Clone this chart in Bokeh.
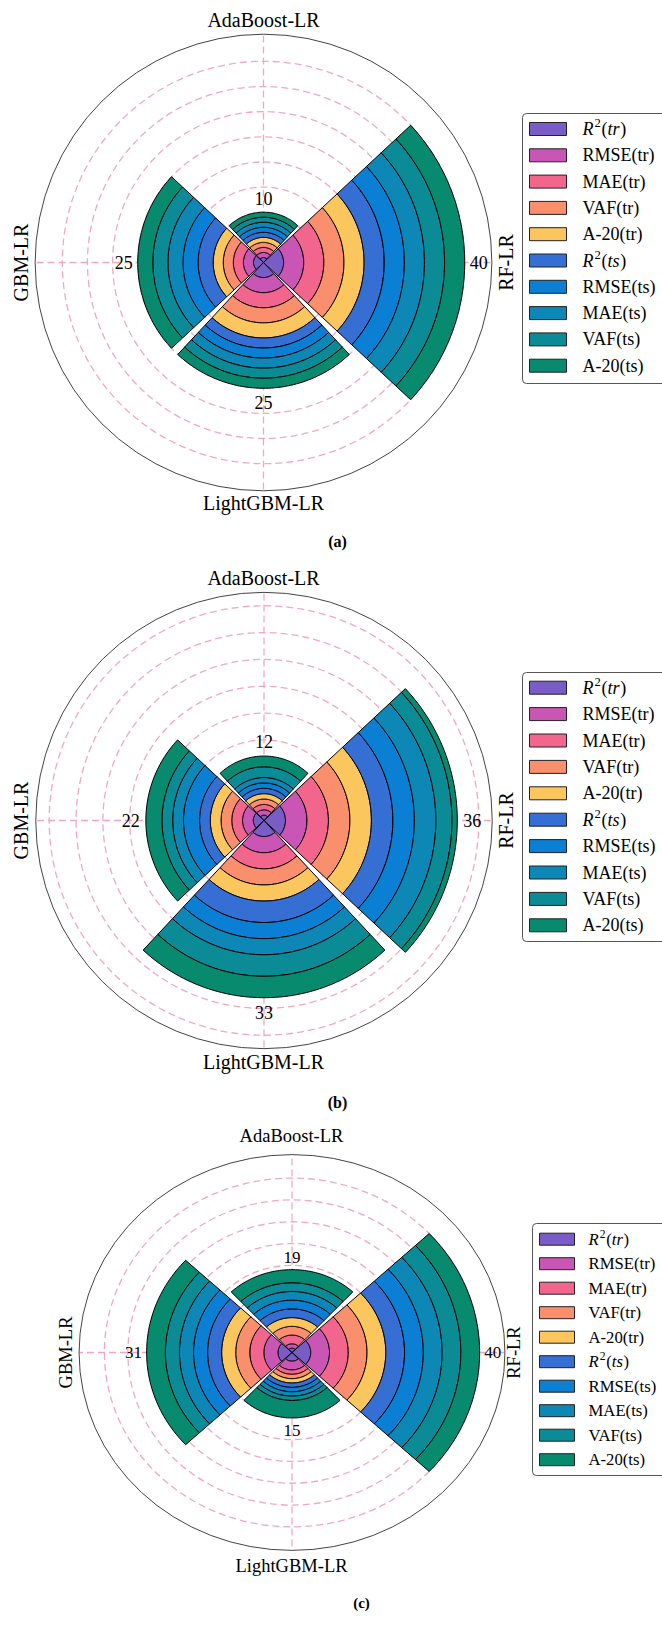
import numpy as np
from bokeh.plotting import figure
from bokeh.models import Range1d
from bokeh.layouts import column
from bokeh.embed import file_html
from bokeh.resources import INLINE
from bokeh.core.properties import value

# ---------------- data ----------------
models = ["RF-LR", "AdaBoost-LR", "GBM-LR", "LightGBM-LR"]
model_angles_deg = [0, 90, 180, 270]
metrics = ["R²(tr)", "RMSE(tr)", "MAE(tr)", "VAF(tr)", "A-20(tr)",
           "R²(ts)", "RMSE(ts)", "MAE(ts)", "VAF(ts)", "A-20(ts)"]
colors = ["#7a5cc6", "#c956b4", "#f2668e", "#f98f6c", "#fcc65e",
          "#356fd3", "#0a7fd4", "#0d87b6", "#0b8b95", "#078a6e"]

# scores (panel a)
a_rf = [4, 4, 4, 4, 4, 4, 4, 4, 4, 4]
a_ada = [1, 1, 1, 1, 1, 1, 1, 1, 1, 1]
a_gbm = [2, 2, 2, 2, 2, 3, 3, 3, 3, 3]
a_lgbm = [3, 3, 3, 3, 3, 2, 2, 2, 2, 2]
# scores (panel b)
b_rf = [4, 4, 4, 4, 4, 4, 4, 4, 3, 1]
b_ada = [1, 1, 1, 1, 1, 1, 1, 1, 2, 2]
b_gbm = [2, 2, 2, 2, 2, 2, 3, 2, 2, 3]
b_lgbm = [3, 3, 3, 3, 3, 4, 3, 3, 4, 4]
# scores (panel c)
c_rf = [4, 4, 4, 4, 4, 4, 4, 4, 4, 4]
c_ada = [1, 1, 2, 2, 2, 2, 2, 2, 2, 3]
c_gbm = [3, 3, 3, 3, 3, 3, 3, 3, 3, 4]
c_lgbm = [2, 2, 1, 1, 1, 1, 1, 1, 1, 4]

grid_values = [5, 10, 15, 20, 25, 30, 35, 40]

FONT = "Liberation Serif"
GRID_COLOR = "#f2a9bd"
HALF = np.radians(43)
W = 662

# approximate Times/Liberation Serif advance widths (em)
ADV = {"R": 0.611, "t": 0.278, "r": 0.389, "s": 0.389, "(": 0.333, ")": 0.333, "2": 0.5}


def seg_poly(tc, r0, r1, n=60):
    t = np.linspace(tc - HALF, tc + HALF, n)
    xo, yo = r1 * np.cos(t), r1 * np.sin(t)
    if r0 > 0:
        xi, yi = r0 * np.cos(t[::-1]), r0 * np.sin(t[::-1])
    else:
        xi, yi = np.array([0.0]), np.array([0.0])
    return list(np.concatenate([xo, xi])), list(np.concatenate([yo, yi]))


def make_panel(scores, cfg):
    top, H = cfg["top"], cfg["H"]
    cx, cy, sx, sy = cfg["cx"], cfg["cy"], cfg["sx"], cfg["sy"]
    p = figure(width=W, height=H, output_backend="svg", toolbar_location=None,
               x_range=Range1d(-cx / sx, (W - cx) / sx),
               y_range=Range1d(-(top + H - cy) / sy, (cy - top) / sy),
               min_border=0, outline_line_color=None, background_fill_color="white")
    p.axis.visible = False
    p.grid.visible = False

    def px(x, y):
        return (x - cx) / sx, (cy - y) / sy

    def text(x, y, s, fs, style="normal", align="center", angle=0.0, xo=0.0, yo=0.0):
        p.text(x=[x], y=[y], text=[s], angle=angle, x_offset=xo, y_offset=yo,
               text_font=value(FONT), text_font_style=style, text_font_size=f"{fs}px",
               text_align=align, text_baseline="middle", text_color="black")

    rmax = cfg["rmax"]
    # grid circles and spokes
    p.ellipse(x=[0] * len(grid_values), y=[0] * len(grid_values),
              width=[2 * g for g in grid_values], height=[2 * g for g in grid_values],
              fill_color=None, line_color=GRID_COLOR, line_width=1.3, line_dash="7 4")
    ang = np.radians(model_angles_deg)
    p.segment(x0=[0] * 4, y0=[0] * 4, x1=list(rmax * np.cos(ang)), y1=list(rmax * np.sin(ang)),
              line_color=GRID_COLOR, line_width=1.3, line_dash="7 4")
    p.ellipse(x=[0], y=[0], width=[2 * rmax], height=[2 * rmax], fill_color=None,
              line_color="#444444", line_width=1)

    # stacked segments
    cum = [np.concatenate([[0], np.cumsum(s)]) for s in scores]
    for i, m in enumerate(metrics):
        xs, ys = [], []
        for k in range(4):
            x, y = seg_poly(ang[k], cum[k][i], cum[k][i + 1])
            xs.append(x)
            ys.append(y)
        p.patches(xs=xs, ys=ys, fill_color=colors[i], line_color="black", line_width=1)

    # totals
    totals = [int(c[-1]) for c in cum]
    off = 2.8
    p.text(x=[(t + off) * np.cos(a) for t, a in zip(totals, ang)],
           y=[(t + off) * np.sin(a) for t, a in zip(totals, ang)],
           text=[str(t) for t in totals], text_font=value(FONT),
           text_font_size=f"{cfg['tick_fs']}px", text_align="center", text_baseline="middle",
           text_color="black")

    # category labels
    for k, name in enumerate(models):
        x, y = px(*cfg["cat_pos"][k])
        angle = np.pi / 2 if model_angles_deg[k] in (0, 180) else 0.0
        text(x, y, name, cfg["cat_fs"], angle=angle)

    # panel tag
    x, y = px(*cfg["tag_pos"])
    text(x, y, cfg["tag"], cfg["tag_fs"], style="bold")

    # legend (drawn as a box of swatches and labels)
    L, T, B = cfg["leg_box"]
    bl, bt = px(L, T)
    br, bb = px(W + 30, B)
    try:
        p.quad(left=[bl], right=[br], top=[bt], bottom=[bb], fill_color="white",
               line_color="#555555", line_width=1, border_radius=4)
    except Exception:
        p.quad(left=[bl], right=[br], top=[bt], bottom=[bb], fill_color="white",
               line_color="#555555", line_width=1)
    gx0, gx1 = cfg["glyph_x"]
    gh, fs = cfg["gh"], cfg["leg_fs"]
    for i, m in enumerate(metrics):
        yc = cfg["row0"] + i * cfg["row_step"]
        l, t_ = px(gx0, yc - gh / 2)
        r, b = px(gx1, yc + gh / 2)
        p.quad(left=[l], right=[r], top=[t_], bottom=[b], fill_color=colors[i],
               line_color="#222222", line_width=1)
        tx, ty = px(cfg["text_x"], yc)
        if m.startswith("R²"):
            sub = m[3:5]
            xo = 0.0
            text(tx, ty, "R", fs, style="italic", align="left", xo=xo)
            xo += (ADV["R"] + 0.06) * fs
            text(tx, ty, "2", fs * 0.7, align="left", xo=xo, yo=-0.33 * fs)
            xo += ADV["2"] * 0.7 * fs + 0.04 * fs
            text(tx, ty, "(", fs, align="left", xo=xo)
            xo += ADV["("] * fs
            text(tx, ty, sub, fs, style="italic", align="left", xo=xo)
            xo += sum(ADV[c] for c in sub) * fs + 0.03 * fs
            text(tx, ty, ")", fs, align="left", xo=xo)
        else:
            text(tx, ty, m, fs, align="left")
    return p


cfg_a = dict(top=0, H=558, cx=263, cy=262, sx=5.03, sy=5.03, rmax=45.4,
             cat_pos=[(505, 262), (263, 19), (20, 262), (263, 502)],
             tag="(a)", tag_pos=(337, 541), tag_fs=16, cat_fs=20, tick_fs=18,
             leg_box=(522, 113, 383), glyph_x=(529, 566), gh=13, row0=128.5, row_step=26.3,
             text_x=582, leg_fs=18)
cfg_b = dict(top=558, H=559, cx=263.5, cy=820, sx=5.37, sy=5.37, rmax=42.5,
             cat_pos=[(505, 820), (263, 577), (20, 820), (263, 1061)],
             tag="(b)", tag_pos=(337, 1102), tag_fs=16, cat_fs=20, tick_fs=18,
             leg_box=(522, 672, 941), glyph_x=(529, 566), gh=13, row0=687.2, row_step=26.4,
             text_x=582, leg_fs=18)
cfg_c = dict(top=1117, H=518, cx=291.5, cy=1352, sx=4.69, sy=4.36, rmax=45.4,
             cat_pos=[(513, 1352), (291, 1135), (65, 1352), (291, 1565)],
             tag="(c)", tag_pos=(361, 1602), tag_fs=15, cat_fs=18.5, tick_fs=17,
             leg_box=(532, 1223, 1475), glyph_x=(539, 574), gh=12, row0=1238.7, row_step=24.5,
             text_x=588, leg_fs=16.7)

pa = make_panel([a_rf, a_ada, a_gbm, a_lgbm], cfg_a)
pb = make_panel([b_rf, b_ada, b_gbm, b_lgbm], cfg_b)
pc = make_panel([c_rf, c_ada, c_gbm, c_lgbm], cfg_c)

layout = column(pa, pb, pc, spacing=0)
open("out.html", "w").write(file_html(layout, INLINE))
